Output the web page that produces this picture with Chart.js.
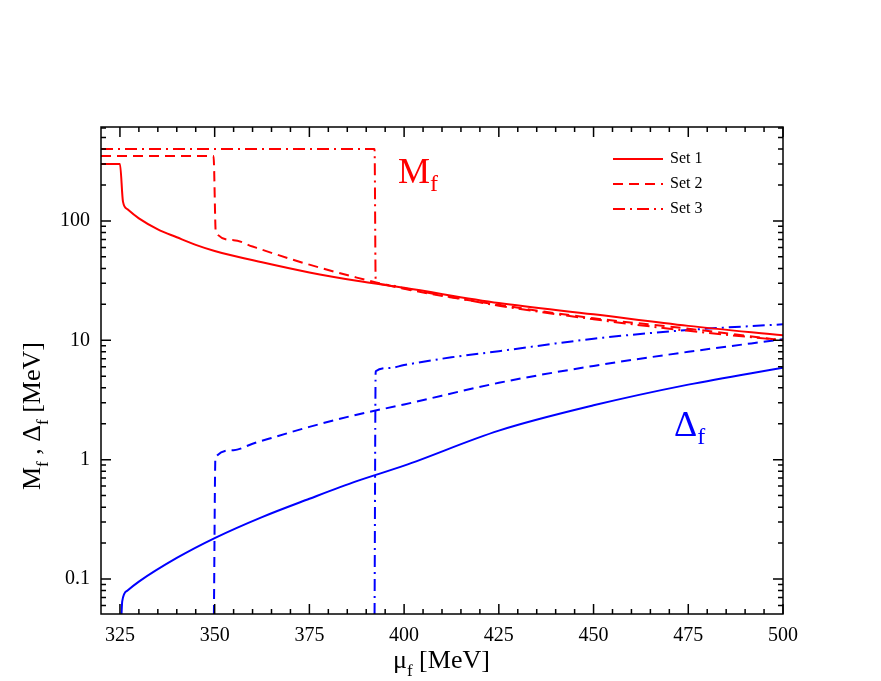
<!DOCTYPE html>
<html><head><meta charset="utf-8">
<script src="https://cdn.jsdelivr.net/npm/chart.js@4"></script>
<style>html,body{margin:0;background:#fff}#w{width:881px;height:681px}</style>
</head><body><div id="w"><canvas id="c"></canvas></div>
<script>
const xTicks=[325,350,375,400,425,450,475,500];
const yTicks=[0.1,1,10,100];
const seriesNames=["Set 1","Set 2","Set 3"];
const m1x=[320,325,325.8,327,330,335,340,345,350,362.5,375,387.5,400,425,450,475,500];
const m1y=[300,300,145,125,105,85,73,63,56,45,37,31.5,27.5,20.5,16.5,13.2,11];
const m2x=[320,349.7,350.3,355,360,365,370,375,387.5,400,425,450,475,500];
const m2y=[350,350,80,69,61,54,48,43,33.5,27,19.8,15.3,12.5,10];
const m3x=[320,392.2,392.5,396,400,412.5,425,450,475,500];
const m3y=[400,400,31,29,27.3,23,19.5,15,12,10];
const d1x=[325.4,325.6,327,330,340,350,362.5,375,387.5,400,425,450,475,500];
const d1y=[0.05,0.065,0.08,0.095,0.15,0.22,0.33,0.47,0.66,0.89,1.75,2.85,4.25,5.9];
const d2x=[349.8,350.2,355,360,365,375,387.5,400,425,450,475,500];
const d2y=[0.05,1.05,1.2,1.36,1.52,1.88,2.38,2.9,4.4,6.1,8.0,10.2];
const d3x=[392.2,392.5,396,400,412.5,425,450,475,500];
const d3y=[0.05,5.5,5.85,6.2,7.2,8.1,10.3,12.2,13.6];
const pts=(xs,ys)=>xs.map((x,i)=>({x,y:ys[i]}));
const red='#ff0000',blue='#0000ff';
const dashes=[[],[10,6],[12,5,2,5]];
function ds(xs,ys,c,k){return{data:pts(xs,ys),borderColor:c,borderWidth:2,borderDash:dashes[k],pointRadius:0,fill:false,cubicInterpolationMode:'monotone'};}
const serif='"Liberation Serif","Times New Roman",serif';
const deco={id:'deco',afterDraw(ch){
 const g=ch.ctx,a=ch.chartArea,xs=ch.scales.x,ys=ch.scales.y;
 g.save();g.strokeStyle='#000';g.lineWidth=1.5;
 g.strokeRect(a.left,a.top,a.right-a.left,a.bottom-a.top);
 for(let v=325;v<=500;v+=25){const p=xs.getPixelForValue(v);
  g.beginPath();g.moveTo(p,a.bottom);g.lineTo(p,a.bottom-10);g.moveTo(p,a.top);g.lineTo(p,a.top+10);g.stroke();}
 for(let v=330;v<500;v+=5){if(v%25===0)continue;const p=xs.getPixelForValue(v);
  g.beginPath();g.moveTo(p,a.bottom);g.lineTo(p,a.bottom-5);g.moveTo(p,a.top);g.lineTo(p,a.top+5);g.stroke();}
 for(let e=-2;e<=2;e++)for(let m=1;m<10;m++){const v=m*Math.pow(10,e);if(v<ys.min||v>ys.max)continue;
  const p=ys.getPixelForValue(v),L=m===1?10:5;
  g.beginPath();g.moveTo(a.left,p);g.lineTo(a.left+L,p);g.moveTo(a.right,p);g.lineTo(a.right-L,p);g.stroke();}
 g.font='16px '+serif;g.textBaseline='middle';
 seriesNames.forEach((n,i)=>{const y=159+i*25;g.strokeStyle=red;g.lineWidth=2;g.setLineDash(dashes[i]);
  g.beginPath();g.moveTo(613,y);g.lineTo(663,y);g.stroke();g.setLineDash([]);g.fillStyle='#000';g.fillText(n,670,y);});
 const sub=(t,s,x,y,c,f,fs)=>{g.fillStyle=c;g.font=f+'px '+serif;g.textBaseline='alphabetic';g.fillText(t,x,y);
  const w=g.measureText(t).width;g.font=fs+'px '+serif;g.fillText(s,x+w,y+8);return x+w+g.measureText(s).width;};
 sub('M','f',398,183,red,36,24);
 sub('Δ','f',674,436,blue,36,24);
 let x=sub('μ','f',393,668,'#000',26,17);
 g.font='26px '+serif;g.fillText(' [MeV]',x,668);
 g.translate(40,490);g.rotate(-Math.PI/2);
 x=sub('M','f',0,0,'#000',26,17);x=sub(' , Δ','f',x,0,'#000',26,17);
 g.font='26px '+serif;g.fillText(' [MeV]',x,0);
 g.restore();}};
new Chart(document.getElementById('c'),{type:'line',
 data:{datasets:[ds(m1x,m1y,red,0),ds(m2x,m2y,red,1),ds(m3x,m3y,red,2),ds(d1x,d1y,blue,0),ds(d2x,d2y,blue,1),ds(d3x,d3y,blue,2)]},
 options:{responsive:true,maintainAspectRatio:false,animation:false,
  layout:{padding:{top:127,right:98,bottom:0,left:0}},
  plugins:{legend:{display:false},tooltip:{enabled:false}},
  scales:{
   x:{type:'linear',min:320,max:500,grid:{display:false},border:{display:false},
    afterFit(s){s.height=67;},
    ticks:{autoSkip:false,color:'#000',font:{family:serif,size:20},padding:2},
    afterBuildTicks(s){s.ticks=xTicks.map(v=>({value:v}));}},
   y:{type:'logarithmic',min:0.0509,max:612,grid:{display:false},border:{display:false},
    afterFit(s){s.width=101;},
    ticks:{autoSkip:false,color:'#000',font:{family:serif,size:20},callback:v=>String(v)},
    afterBuildTicks(s){s.ticks=yTicks.map(v=>({value:v}));}}}},
 plugins:[deco]});
</script></body></html>
